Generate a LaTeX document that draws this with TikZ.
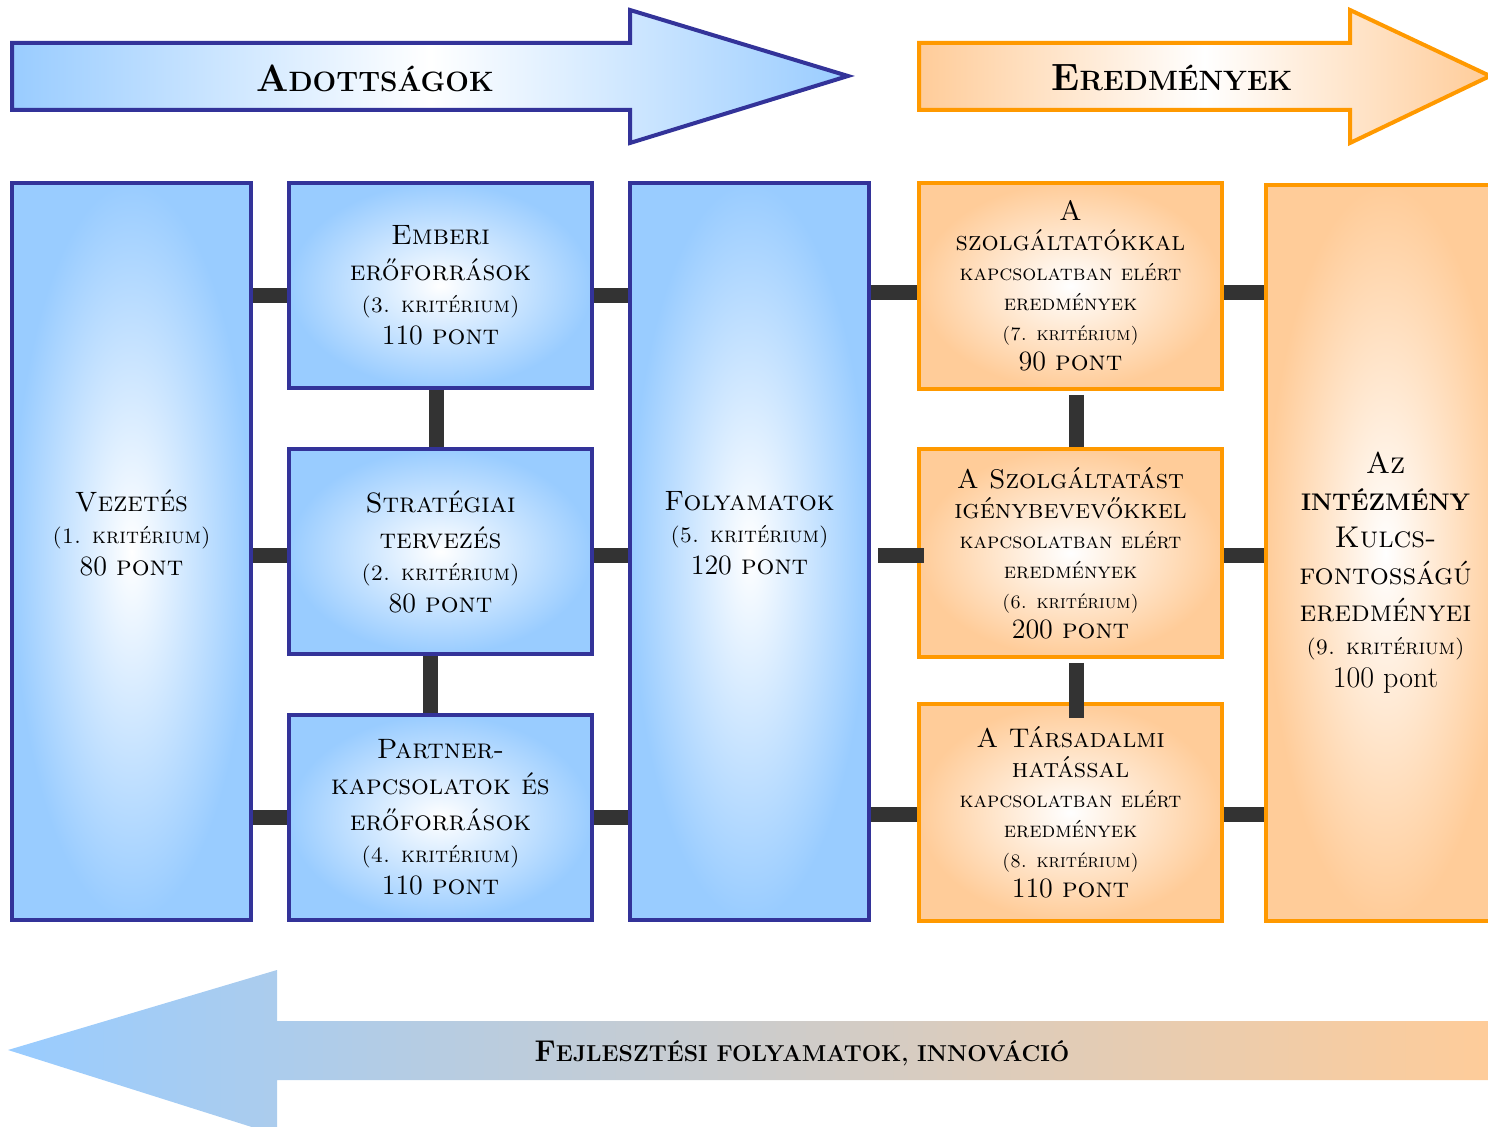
\documentclass[tikz,border=0pt]{standalone}
\usetikzlibrary{calc}

\definecolor{adfill}{HTML}{99CCFF}
\definecolor{adline}{HTML}{333399}
\definecolor{erfill}{HTML}{FFCC99}
\definecolor{erline}{HTML}{FF9900}
\definecolor{rudcol}{HTML}{333333}

\tikzset{
  kek/.style={draw=adline, line width=2pt, inner color=white, outer color=adfill,
    align=center, inner sep=0pt, font=\fontsize{14}{16}\selectfont},
  narancs/.style={draw=erline, line width=2pt, inner color=white, outer color=erfill,
    align=center, inner sep=0pt, font=\fontsize{14}{15}\selectfont},
  rud/.style={draw=rudcol, line width=7.5pt},
}
\newcommand{\krit}[1]{{\fontsize{11}{13}\selectfont\textsc{(#1. kritérium)}}}
\newcommand{\kritk}[1]{{\fontsize{9.5}{11}\selectfont\textsc{(#1. kritérium)}}}
\newcommand{\kozep}[1]{{\fontsize{11}{13}\selectfont\textsc{#1}}}

\begin{document}
\begin{tikzpicture}[x=0.5pt,y=-0.5pt]
    \useasboundingbox (0,0) rectangle (1488,1127);

    % top arrows
    \draw [draw=adline, line width=2pt, left color=adfill, right color=adfill, middle color=white]
        (12,43) -- (630,43) -- (630,10) -- (848,76) -- (630,143) -- (630,110) -- (12,110) -- cycle;
    \draw [draw=erline, line width=2pt, left color=erfill, right color=erfill, middle color=white]
        (919,43) -- (1350,43) -- (1350,10) -- (1490,76) -- (1350,143) -- (1350,110) -- (919,110) -- cycle;
    \node (adottsag) at (375,78) {\bfseries\fontsize{19}{24}\selectfont A\fontsize{14}{24}\selectfont DOTTSÁGOK};
    \node (eredmeny) at (1172,78) {\bfseries\fontsize{19}{24}\selectfont E\fontsize{14}{24}\selectfont REDMÉNYEK};

    % bottom arrow
    \shade [left color=adfill, right color=erfill]
        (8,1050) -- (277,970) -- (277,1021) -- (1500,1021) -- (1500,1080) -- (277,1080) -- (277,1135) -- cycle;
    \node (fejlesztes) at (802,1053) {\bfseries\fontsize{15}{18}\selectfont F\fontsize{11.5}{18}\selectfont EJLESZTÉSI FOLYAMATOK, INNOVÁCIÓ};

    % adottsagok
    \node [kek, minimum width=119.5pt, minimum height=368.5pt] (vezetes) at (131.5,551.5)
        {\textsc{Vezetés}\\ \krit{1}\\ 80 \textsc{pont}\\[3pt]};
    \node [kek, minimum width=151.5pt, minimum height=102.5pt] (emberi) at (440.5,285.5)
        {\textsc{Emberi}\\[2pt] \textsc{erőforrások}\\ \krit{3}\\ 110 \textsc{pont}};
    \node [kek, minimum width=151.5pt, minimum height=102.5pt] (strategia) at (440.5,551.5)
        {\textsc{Stratégiai}\\[2pt] \textsc{tervezés}\\ \krit{2}\\ 80 \textsc{pont}};
    \node [kek, minimum width=151.5pt, minimum height=102.5pt] (partner) at (440.5,817.5)
        {\textsc{Partner-}\\[2pt] \textsc{kapcsolatok és}\\[2pt] \textsc{erőforrások}\\ \krit{4}\\ 110 \textsc{pont}};
    \node [kek, minimum width=119.5pt, minimum height=368.5pt] (folyamatok) at (749.5,551.5)
        {\textsc{Folyamatok}\\ \krit{5}\\ 120 \textsc{pont}\\[3pt]};

    % eredmenyek
    \node [narancs, minimum width=151.5pt, minimum height=103pt] (szolg) at (1070.5,286)
        {\textsc{A}\\ \textsc{\fontsize{13.5}{15}\selectfont szolgáltatókkal}\\ \kozep{kapcsolatban elért}\\
         \kozep{eredmények}\\ \kritk{7}\\ 90 \textsc{pont}};
    \node [narancs, minimum width=151.5pt, minimum height=104pt] (igeny) at (1070.5,553)
        {\textsc{\fontsize{13.5}{15}\selectfont A Szolgáltatást}\\ \textsc{\fontsize{13.5}{15}\selectfont igénybevevőkkel}\\
         \kozep{kapcsolatban elért}\\ \kozep{eredmények}\\ \kritk{6}\\ 200 \textsc{pont}};
    \node [narancs, minimum width=151.5pt, minimum height=108.5pt] (tarsad) at (1070.5,812.5)
        {\textsc{\fontsize{13.5}{15}\selectfont A Társadalmi}\\ \textsc{\fontsize{13.5}{15}\selectfont hatással}\\
         \kozep{kapcsolatban elért}\\ \kozep{eredmények}\\ \kritk{8}\\ 110 \textsc{pont}};
    \node [narancs, minimum width=119.5pt, minimum height=368pt] (kulcs) at (1385.5,553) {};
    \node [align=center, font=\fontsize{15}{18.5}\selectfont] (kulcsszoveg) at ([yshift=-10pt]kulcs.center)
        {\textsc{Az}\\ {\bfseries\fontsize{12}{14}\selectfont INTÉZMÉNY}\\ \textsc{Kulcs-}\\ \textsc{fontosságú}\\
         \textsc{eredményei}\\[-2pt] {\fontsize{11}{13}\selectfont\textsc{(9. kritérium)}}\\[-2pt] 100 pont};

    % connectors
    \draw [rud] (vezetes.east |- emberi.west) ++(0,10) -- ([yshift=-5pt]emberi.west);
    \draw [rud] (vezetes.east |- strategia.west) ++(0,4) -- ([yshift=-2pt]strategia.west);
    \draw [rud] (vezetes.east |- partner.west) -- (partner.west);
    \draw [rud] ([yshift=-5pt]emberi.east) -- ([yshift=-5pt]emberi.east -| folyamatok.west);
    \draw [rud] ([yshift=-2pt]strategia.east) -- ([yshift=-2pt]strategia.east -| folyamatok.west);
    \draw [rud] (partner.east) -- (partner.east -| folyamatok.west);
    \draw [rud] ([xshift=-2pt]emberi.south) -- ([xshift=-2pt]strategia.north);
    \draw [rud] ([xshift=-5pt]strategia.south) -- ([xshift=-5pt]partner.north);
    \draw [rud] ([yshift=-3.5pt]folyamatok.east |- szolg.west) -- ([yshift=-3.5pt]szolg.west);
    \draw [rud] ([xshift=3.5pt,yshift=-1.5pt]folyamatok.east |- igeny.west) -- ([xshift=3.5pt,yshift=-1.5pt]igeny.west);
    \draw [rud] ([yshift=-1pt]folyamatok.east |- tarsad.west) -- ([yshift=-1pt]tarsad.west);
    \draw [rud] ([yshift=-3.5pt]szolg.east) -- ([yshift=-3.5pt]szolg.east -| kulcs.west);
    \draw [rud] ([yshift=-1.5pt]igeny.east) -- ([yshift=-1.5pt]igeny.east -| kulcs.west);
    \draw [rud] ([yshift=-1pt]tarsad.east) -- ([yshift=-1pt]tarsad.east -| kulcs.west);
    \draw [rud] ([xshift=3pt,yshift=-2pt]szolg.south) -- ([xshift=3pt]igeny.north);
    \draw [rud] ([xshift=3pt,yshift=-2pt]igeny.south) -- ([xshift=3pt,yshift=-8pt]tarsad.north);
\end{tikzpicture}
\end{document}
